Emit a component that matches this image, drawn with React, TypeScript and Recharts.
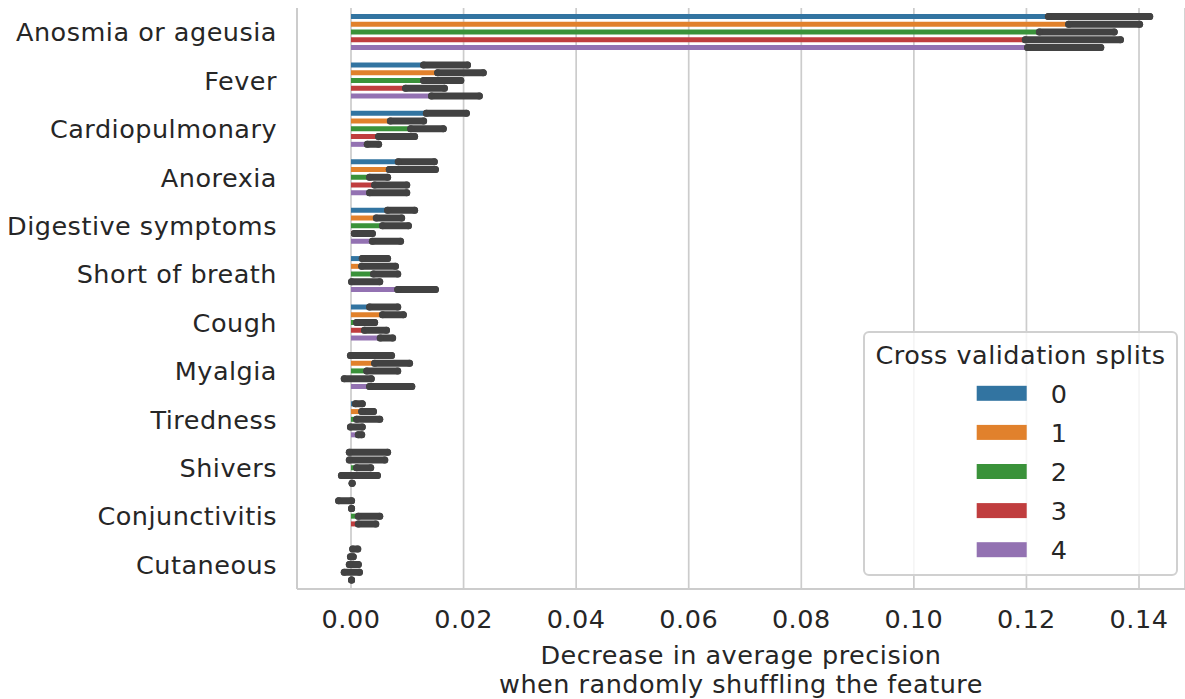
import { Bar, BarChart, CartesianGrid, ErrorBar, Legend, XAxis, YAxis } from "recharts";

// feature names, top to bottom
const features = [
  "Anosmia or ageusia",
  "Fever",
  "Cardiopulmonary",
  "Anorexia",
  "Digestive symptoms",
  "Short of breath",
  "Cough",
  "Myalgia",
  "Tiredness",
  "Shivers",
  "Conjunctivitis",
  "Cutaneous",
];

const splits = ["0", "1", "2", "3", "4"];

// per split: [ci low, mean, ci high] for each feature
const split0 = [
  [0.1239, 0.1329, 0.1419], [0.0129, 0.0168, 0.0207], [0.0134, 0.017, 0.0205], [0.0084, 0.0116, 0.0148],
  [0.0065, 0.0089, 0.0113], [0.002, 0.0043, 0.0065], [0.0033, 0.0058, 0.0083], [-0.0001, 0.0036, 0.0072],
  [0.0008, 0.0014, 0.002], [-0.0003, 0.0031, 0.0065], [-0.0022, -0.0011, 0.0001], [0.0003, 0.0007, 0.0012],
];
const split1 = [
  [0.1275, 0.1338, 0.1401], [0.0154, 0.0195, 0.0235], [0.007, 0.01, 0.0129], [0.0068, 0.0109, 0.015],
  [0.0045, 0.0068, 0.009], [0.0019, 0.0049, 0.0079], [0.0056, 0.0075, 0.0093], [0.0042, 0.0073, 0.0104],
  [0.0019, 0.0029, 0.004], [-0.0003, 0.0028, 0.006], [0.0001, 0.0001, 0.0001], [-0.0001, 0.0002, 0.0004],
];
const split2 = [
  [0.1223, 0.129, 0.1356], [0.0129, 0.0162, 0.0195], [0.0106, 0.0135, 0.0164], [0.0033, 0.0049, 0.0065],
  [0.0056, 0.0079, 0.0102], [0.004, 0.0061, 0.0083], [0.001, 0.0026, 0.0042], [0.0028, 0.0055, 0.0083],
  [0.001, 0.003, 0.0051], [0.001, 0.0022, 0.0035], [0.0013, 0.0032, 0.0051], [-0.0003, 0.0005, 0.0013],
];
const split3 = [
  [0.1198, 0.1283, 0.1367], [0.0097, 0.0131, 0.0166], [0.0049, 0.0081, 0.0113], [0.0042, 0.007, 0.0099],
  [0.0006, 0.0022, 0.0038], [0.0001, 0.0026, 0.0051], [0.0024, 0.0044, 0.0063], [-0.0012, 0.0012, 0.0036],
  [-0.0001, 0.001, 0.002], [-0.0017, 0.0015, 0.0047], [0.0013, 0.0028, 0.0044], [-0.0012, 0.0002, 0.0015],
];
const split4 = [
  [0.1202, 0.1267, 0.1332], [0.0143, 0.0186, 0.0228], [0.0029, 0.0039, 0.0049], [0.0033, 0.0066, 0.0099],
  [0.0038, 0.0063, 0.0088], [0.0083, 0.0116, 0.015], [0.0052, 0.0063, 0.0074], [0.0033, 0.007, 0.0108],
  [0.0013, 0.0016, 0.0019], [0.0002, 0.0002, 0.0002], [0, 0, 0], [0.0001, 0.0001, 0.0001],
];

const xTicks = [0, 0.02, 0.04, 0.06, 0.08, 0.1, 0.12, 0.14];

const colors = ["#3274a1", "#e1812c", "#3a923a", "#c03d3e", "#9372b2"];
const ink = "#262626";
const fontSize = 25.5;

const allSplits = [split0, split1, split2, split3, split4];

const rows = features.map((feature, i) => {
  const row: Record<string, unknown> = { feature };
  allSplits.forEach((s, k) => {
    const [lo, mean, hi] = s[i];
    row[`s${k}`] = mean;
    row[`e${k}`] = [mean - lo, hi - mean];
  });
  return row;
});

function XTitle({ viewBox }: any) {
  const cx = viewBox.x + viewBox.width / 2;
  return (
    <text x={cx} textAnchor="middle" fill={ink} fontSize={fontSize}>
      <tspan x={cx} y={viewBox.y + 75}>Decrease in average precision</tspan>
      <tspan x={cx} y={viewBox.y + 104}>when randomly shuffling the feature</tspan>
    </text>
  );
}

function LegendBox({ payload }: any) {
  const items = payload ?? [];
  return (
    <svg width={315} height={246} style={{ display: "block", fontFamily: "DejaVu Sans" }}>
      <rect x={1} y={1} width={313} height={243} rx={5} fill="rgba(255,255,255,0.8)" stroke="#d0d0d0" strokeWidth={2} />
      <text x={157.5} y={33} textAnchor="middle" fill={ink} fontSize={fontSize}>
        Cross validation splits
      </text>
      {items.map((it: any, i: number) => {
        const cy = 62.3 + i * 39.1;
        return (
          <g key={it.value}>
            <rect x={113.7} y={cy - 7.5} width={50} height={15} fill={it.color} />
            <text x={187.7} y={cy + 9.5} fill={ink} fontSize={fontSize}>
              {it.value}
            </text>
          </g>
        );
      })}
    </svg>
  );
}

export default function App() {
  return (
    <div style={{ position: "absolute", left: 0, top: 0, fontFamily: "DejaVu Sans", letterSpacing: "0.5px" }}>
      <BarChart
        width={1185}
        height={699}
        data={rows}
        layout="vertical"
        margin={{ top: 8, right: 0, bottom: 0, left: 0 }}
        barSize={5}
        barGap={2.75}
      >
        <CartesianGrid horizontal={false} stroke="#cccccc" strokeWidth={1.7} />
        <XAxis
          type="number"
          domain={[-0.009594, 0.14817]}
          allowDataOverflow
          ticks={xTicks}
          interval={0}
          tickFormatter={(v: number) => v.toFixed(2)}
          tick={{ fill: ink, fontSize }}
          tickLine={false}
          tickSize={0}
          tickMargin={21}
          axisLine={{ stroke: "#cccccc", strokeWidth: 2 }}
          height={110}
          label={{ content: XTitle }}
        />
        <YAxis
          type="category"
          dataKey="feature"
          width={297}
          interval={0}
          tick={{ fill: ink, fontSize }}
          tickLine={false}
          tickSize={0}
          tickMargin={20}
          axisLine={{ stroke: "#cccccc", strokeWidth: 2 }}
        />
        <Legend
          layout="horizontal"
          verticalAlign="middle"
          align="center"
          wrapperStyle={{ left: 863, top: 331, width: 315, height: 246 }}
          content={LegendBox}
        />
        {splits.map((name, k) => (
          <Bar key={name} dataKey={`s${k}`} name={name} fill={colors[k]} legendType="rect" isAnimationActive={false}>
            <ErrorBar
              dataKey={`e${k}`}
              direction="x"
              width={0}
              stroke="#424242"
              strokeWidth={7}
              strokeLinecap="round"
              isAnimationActive={false}
            />
          </Bar>
        ))}
      </BarChart>
    </div>
  );
}
